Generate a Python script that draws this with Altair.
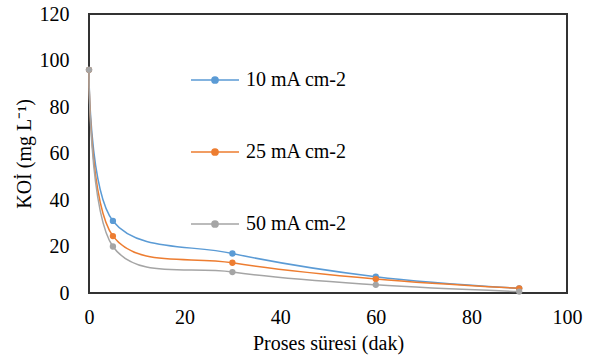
import altair as alt
import pandas as pd

times = [0, 5, 30, 60, 90]
series_names = ["10 mA cm-2", "25 mA cm-2", "50 mA cm-2"]
koi_10 = [96, 31, 17, 7, 2]
koi_25 = [96, 24.5, 13, 6, 2]
koi_50 = [96, 20, 9, 3.5, 0.6]
colors = ["#5B9BD5", "#ED7D31", "#A5A5A5"]

rows = []
for name, vals in zip(series_names, [koi_10, koi_25, koi_50]):
    for t, v in zip(times, vals):
        rows.append({"t": t, "koi": v, "seri": name})
df = pd.DataFrame(rows)

FONT = "Liberation Serif"
sym = ("M-1,0L1,0"
       "M-0.13,0A0.13,0.13,0,1,1,0.13,0A0.13,0.13,0,1,1,-0.13,0"
       "M-0.08,0A0.08,0.08,0,1,1,0.08,0A0.08,0.08,0,1,1,-0.08,0"
       "M-0.04,0A0.04,0.04,0,1,1,0.04,0A0.04,0.04,0,1,1,-0.04,0")

color = alt.Color(
    "seri:N",
    scale=alt.Scale(domain=series_names, range=colors),
    legend=alt.Legend(
        title=None, orient="none", legendX=101, legendY=41,
        symbolType=sym, symbolSize=2304, symbolStrokeWidth=1.5,
        labelFont=FONT, labelFontSize=20, labelColor="#000000",
        labelOffset=6, rowPadding=37, direction="vertical",
    ),
)

x = alt.X("t:Q", scale=alt.Scale(domain=[0, 100], nice=False),
          axis=alt.Axis(values=[0, 20, 40, 60, 80, 100], title="Proses süresi (dak)",
                        grid=False, ticks=False, domain=False, labelFlush=False,
                        labelFont=FONT, labelFontSize=20, labelColor="#000000",
                        labelPadding=14, titleFont=FONT, titleFontSize=20,
                        titleFontWeight="normal", titleColor="#000000", titlePadding=6))
y = alt.Y("koi:Q", scale=alt.Scale(domain=[0, 120], nice=False),
          axis=alt.Axis(values=[0, 20, 40, 60, 80, 100, 120], title="KOİ (mg L⁻¹)",
                        grid=False, ticks=False, domain=False, labelFlush=False,
                        labelFont=FONT, labelFontSize=20, labelColor="#000000",
                        labelPadding=20, titleFont=FONT, titleFontSize=20,
                        titleFontWeight="normal", titleColor="#000000", titlePadding=5))

lines = alt.Chart(df).mark_line(interpolate="cardinal", strokeWidth=1.5).encode(
    x=x, y=y, color=color)
points = alt.Chart(df).mark_circle(size=40, opacity=1).encode(
    x="t:Q", y="koi:Q", color=alt.Color("seri:N", scale=alt.Scale(domain=series_names, range=colors), legend=None))

chart = alt.layer(lines, points).properties(
    width=478, height=279, background="white",
    autosize=alt.AutoSizeParams(type="none"),
    padding={"left": 89, "top": 14, "right": 35, "bottom": 70},
).configure_view(stroke="#333333", strokeWidth=2)

chart.save("out.html", embed_options={"renderer": "svg", "actions": False})
